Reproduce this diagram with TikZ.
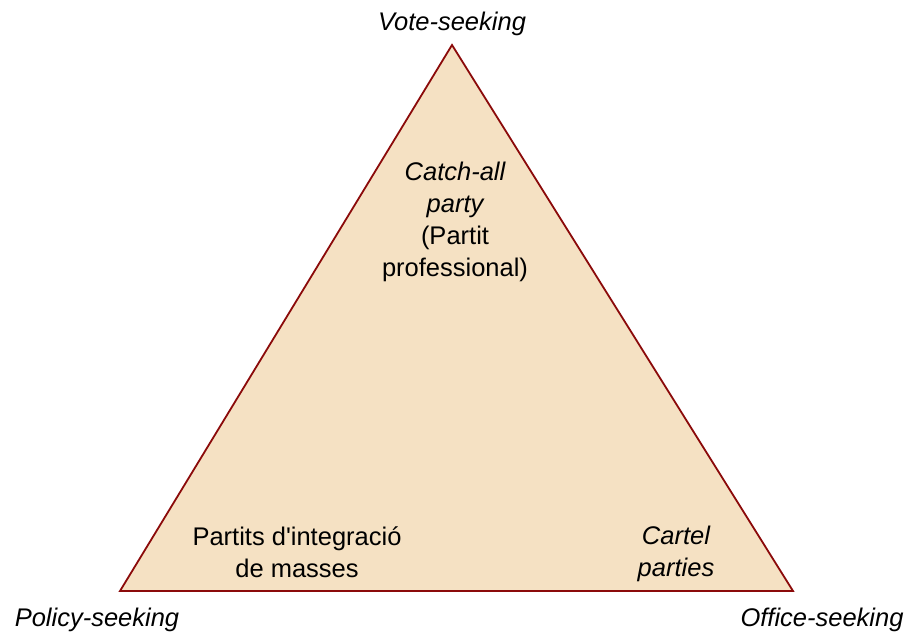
\documentclass[tikz,border=0pt]{standalone}
\usepackage{fontspec}
\setmainfont{Liberation Sans}
\usetikzlibrary{positioning}

\definecolor{tanfill}{HTML}{F5E1C3}
\definecolor{edgered}{HTML}{8B0A0A}

\begin{document}
\begin{tikzpicture}[x=1pt,y=1pt,
    corner label/.style={font=\fontsize{25.5}{32}\selectfont\itshape,inner sep=0pt},
    inner label/.style={font=\fontsize{25.5}{32}\selectfont,align=center,inner sep=0pt}]

  \useasboundingbox (0,0) rectangle (907,634);

  \coordinate (vote) at (452,589);
  \coordinate (policy) at (120,43);
  \coordinate (office) at (793,43);

  \draw[edgered,line width=1.8pt,fill=tanfill,line join=miter] (vote) -- (office) -- (policy) -- cycle;

  \node[corner label] (votelbl) at (452,610) {Vote-seeking};
  \node[corner label] (policylbl) at (97,14) {Policy-seeking};
  \node[corner label] (officelbl) at (822,14) {Office-seeking};

  \node[inner label] (catchall) at (455,412) {\itshape Catch-all\\\itshape party\\(Partit\\professional)};
  \node[inner label] (masses) at (297,82) {Partits d\textquotesingle integració\\de masses};
  \node[inner label] (cartel) at (676,80) {\itshape Cartel\\\itshape parties};
\end{tikzpicture}
\end{document}
